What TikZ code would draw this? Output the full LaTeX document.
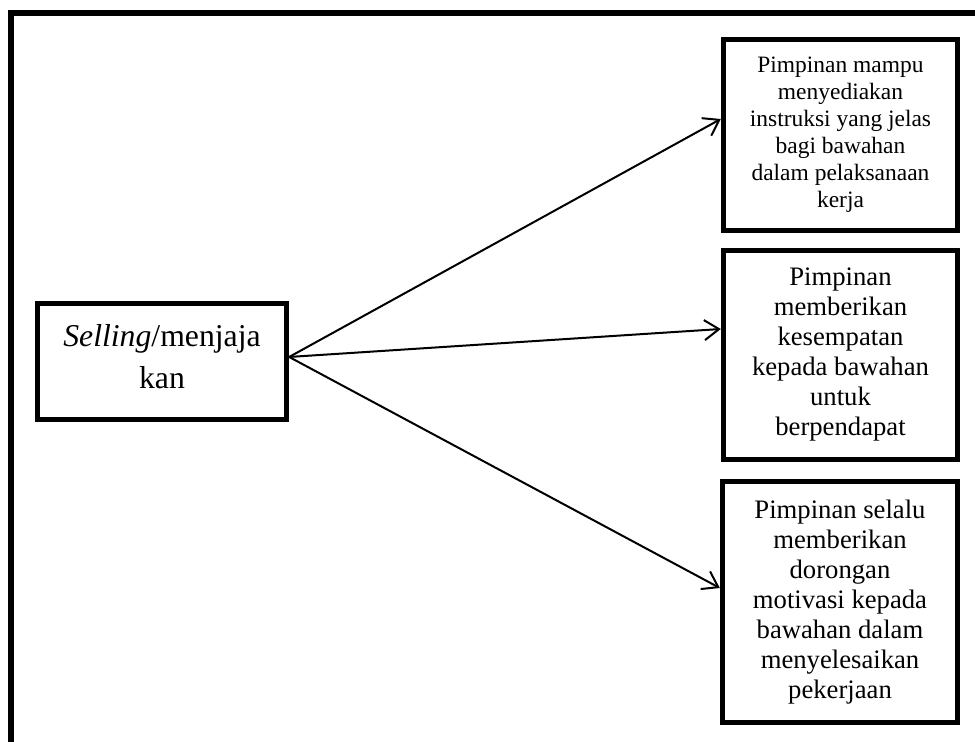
\documentclass[tikz,border=0pt]{standalone}
\usepackage{fontspec}
\setmainfont{Liberation Serif}
\usetikzlibrary{arrows.meta}
\begin{document}
\begin{tikzpicture}[x=0.75pt, y=-0.75pt,
		kotak/.style={draw, line width=4pt, align=center, inner sep=0pt},
		panah/.style={-{Straight Barb[length=11pt,width=15pt]}, line width=1.5pt}]
	\useasboundingbox (0,0) rectangle (975,742);
	% bingkai luar
	\draw[line width=4.3pt] (10.8,742) -- (10.8,13) -- (975,13);
	\node[kotak, minimum width=186.75pt, minimum height=87pt, font=\fontsize{23.8}{31.5}\selectfont] (selling) at (162,361.5) {\textit{Selling}/menjaja\\kan\rule[-8pt]{0pt}{1pt}};
	\node[kotak, minimum width=175.5pt, minimum height=143.25pt, font=\fontsize{17.6}{20.25}\selectfont] (instruksi) at (840.5,135) {Pimpinan mampu\\menyediakan\\instruksi yang jelas\\bagi bawahan\\dalam pelaksanaan\\kerja};
	\node[kotak, minimum width=175.5pt, minimum height=156.75pt, font=\fontsize{20}{22.5}\selectfont] (pendapat) at (840.5,355) {Pimpinan\\memberikan\\kesempatan\\kepada bawahan\\untuk\\berpendapat};
	\node[kotak, minimum width=176.25pt, minimum height=180.75pt, font=\fontsize{20}{22.5}\selectfont] (motivasi) at (840,602) {Pimpinan selalu\\memberikan\\dorongan\\motivasi kepada\\bawahan dalam\\menyelesaikan\\pekerjaan};
	\coordinate (pangkal) at ([yshift=3.4pt]selling.east);
	\draw[panah] (pangkal) -- ([yshift=12pt]instruksi.west);
	\draw[panah] (pangkal) -- ([yshift=19.5pt]pendapat.west);
	\draw[panah] (pangkal) -- ([yshift=10.5pt]motivasi.west);
\end{tikzpicture}
\end{document}
